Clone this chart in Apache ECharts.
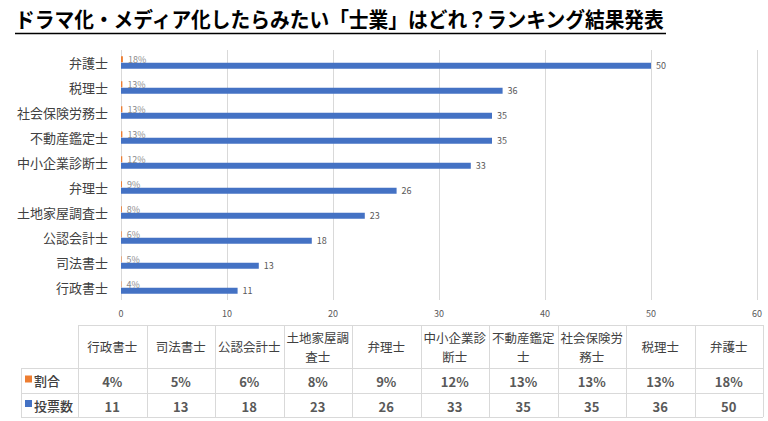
<!DOCTYPE html>
<html><head><meta charset="utf-8">
<script src="https://cdn.jsdelivr.net/npm/echarts@6/dist/echarts.min.js"></script>
<style>html,body{margin:0;padding:0;background:#fff}#c{width:768px;height:421px}</style>
</head><body><div id="c"></div>
<script>
const titleText = 'ドラマ化・メディア化したらみたい「士業」はどれ？ランキング結果発表';
const categories = ['行政書士','司法書士','公認会計士','土地家屋調査士','弁理士','中小企業診断士','不動産鑑定士','社会保険労務士','税理士','弁護士'];
const ratio = [0.04,0.05,0.06,0.08,0.09,0.12,0.13,0.13,0.13,0.18];
const votes = [11,13,18,23,26,33,35,35,36,50];
const seriesNames = ['割合','投票数'];
const seriesColors = ['#ED7D31','#4472C4'];
const xMin = 0, xMax = 60, xInterval = 10;

const FONT = '"Noto Sans CJK JP", sans-serif';
const chart = echarts.init(document.getElementById('c'), null, {renderer:'svg'});

// table layout
const tblLeft = 21, colStart = 78, colW = 68.5, nCols = categories.length;
const rowY = [325, 368, 393, 417];
const tblRight = colStart + colW * nCols;
const lineStyle = {stroke:'#d9d9d9', lineWidth:1};
const g = [];
// title
g.push({type:'text', left:15, top:7, style:{text:titleText, font:'bold 21px ' + FONT, fill:'#000'}, scaleX:0.94});
g.push({type:'line', shape:{x1:15,y1:33.5,x2:666,y2:33.5}, style:{stroke:'#000', lineWidth:1.5}});
// table lines
g.push({type:'line', shape:{x1:colStart,y1:rowY[0]+0.5,x2:tblRight,y2:rowY[0]+0.5}, style:lineStyle});
for (let r=1;r<rowY.length;r++) g.push({type:'line', shape:{x1:tblLeft,y1:rowY[r]+0.5,x2:tblRight,y2:rowY[r]+0.5}, style:lineStyle});
g.push({type:'line', shape:{x1:tblLeft+0.5,y1:rowY[1],x2:tblLeft+0.5,y2:rowY[3]}, style:lineStyle});
for (let c=0;c<=nCols;c++){ const x=Math.round(colStart+colW*c)+0.5; g.push({type:'line', shape:{x1:x,y1:rowY[0],x2:x,y2:rowY[3]}, style:lineStyle}); }
// header cells
categories.forEach((cat,i)=>{
  const cx = colStart + colW*i + colW/2;
  g.push({type:'text', x:cx, y:(rowY[0]+rowY[1])/2, style:{text:cat, width:colW-2, overflow:'break', lineHeight:19, font:'12.5px '+FONT, fill:'#404040', align:'center', verticalAlign:'middle'}});
  g.push({type:'text', x:cx, y:(rowY[1]+rowY[2])/2+1, style:{text:Math.round(ratio[i]*100)+'%', font:'bold 13px '+FONT, fill:'#595959', align:'center', verticalAlign:'middle'}});
  g.push({type:'text', x:cx, y:(rowY[2]+rowY[3])/2+1, style:{text:String(votes[i]), font:'bold 13px '+FONT, fill:'#595959', align:'center', verticalAlign:'middle'}});
});
// row legend cells
seriesNames.forEach((nm,k)=>{
  const cy = (rowY[k+1]+rowY[k+2])/2;
  g.push({type:'rect', shape:{x:25,y:cy-5,width:7,height:7}, style:{fill:seriesColors[k]}});
  g.push({type:'text', x:34, y:cy, style:{text:nm, font:'500 13px '+FONT, fill:'#404040', verticalAlign:'middle'}});
});

chart.setOption({
  animation:false,
  textStyle:{fontFamily:FONT},
  grid:{left:121, top:50, width:636, height:250, containLabel:false},
  xAxis:{type:'value', min:xMin, max:xMax, interval:xInterval,
    axisLine:{show:false}, axisTick:{show:false},
    splitLine:{lineStyle:{color:'#d9d9d9'}},
    axisLabel:{color:'#595959', fontSize:9, margin:9}},
  yAxis:{type:'category', data:categories, axisTick:{show:false},
    axisLine:{show:false},
    axisLabel:{color:'#404040', fontSize:13, margin:13}},
  series:[
    {name:seriesNames[0], type:'bar', data:ratio, barWidth:6, barGap:'10%', itemStyle:{color:seriesColors[0]},
     label:{show:true, position:'right', distance:5, color:'#8c8c8c', fontSize:9, formatter:p=>Math.round(p.value*100)+'%'}},
    {name:seriesNames[1], type:'bar', data:votes, barWidth:6, itemStyle:{color:seriesColors[1]},
     label:{show:true, position:'right', distance:5, color:'#595959', fontSize:9}}
  ],
  graphic:g
});
</script></body></html>
